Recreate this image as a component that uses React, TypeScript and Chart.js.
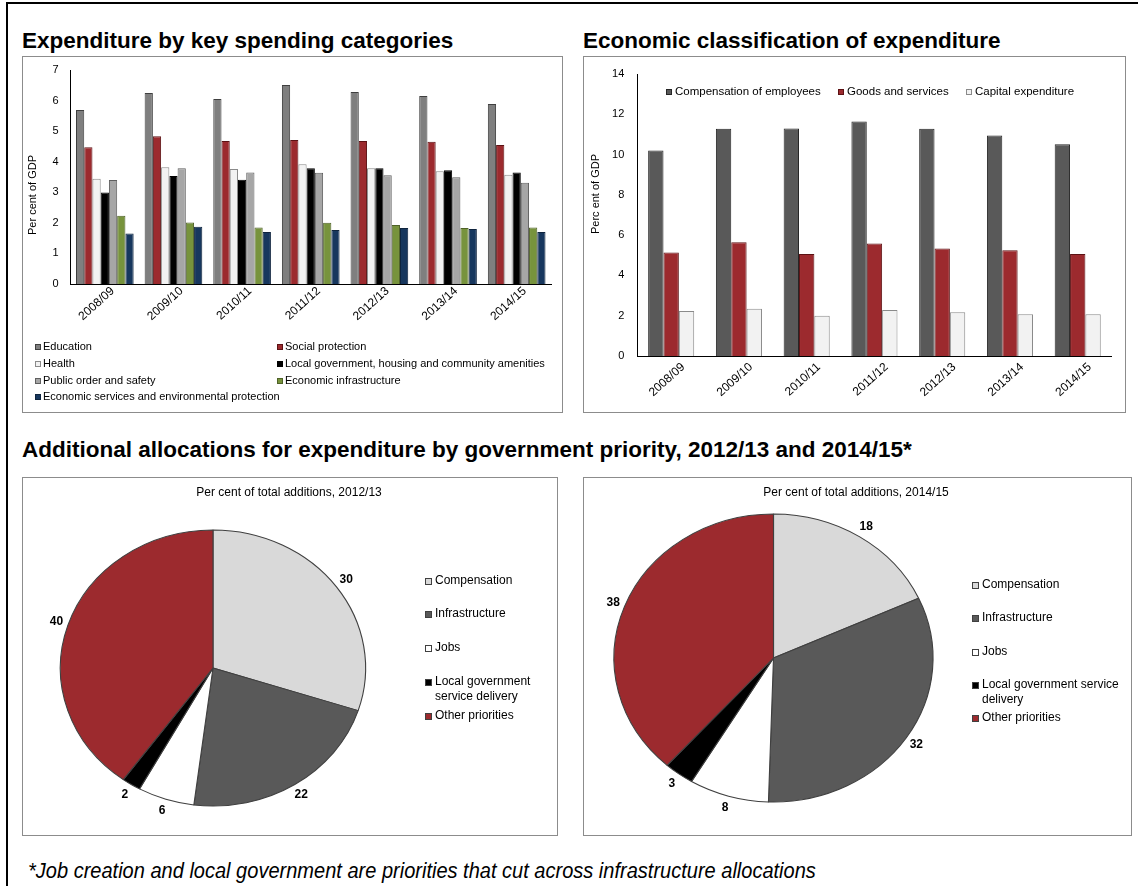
import React, { useEffect, useRef } from "react";
import { Chart, registerables } from "chart.js";

Chart.register(...registerables);

// ---------- data ----------
const years = ["2008/09", "2009/10", "2010/11", "2011/12", "2012/13", "2013/14", "2014/15"];

const education = [5.69, 6.25, 6.05, 6.51, 6.28, 6.15, 5.89];
const socialProtection = [4.47, 4.83, 4.68, 4.71, 4.68, 4.65, 4.55];
const health = [3.44, 3.82, 3.76, 3.92, 3.79, 3.69, 3.57];
const localGovernment = [2.99, 3.53, 3.41, 3.79, 3.79, 3.72, 3.65];
const publicOrder = [3.4, 3.79, 3.65, 3.64, 3.56, 3.49, 3.31];
const economicInfrastructure = [2.23, 2.01, 1.85, 2.0, 1.93, 1.83, 1.85];
const economicServices = [1.65, 1.87, 1.7, 1.77, 1.83, 1.8, 1.7];

const compensationOfEmployees = [10.2, 11.28, 11.29, 11.64, 11.28, 10.95, 10.51];
const goodsAndServices = [5.14, 5.65, 5.06, 5.58, 5.34, 5.25, 5.06];
const capitalExpenditure = [2.23, 2.35, 2.0, 2.28, 2.17, 2.07, 2.07];

const priorityLabels = [
  "Compensation",
  "Infrastructure",
  "Jobs",
  "Local government service delivery",
  "Other priorities",
];
const additions2012 = [30, 22, 6, 2, 40];
const additions2014 = [18, 32, 8, 3, 38];

// ---------- styling ----------
const FONT = "'Liberation Sans', Arial, sans-serif";
Chart.defaults.font.family = FONT;
Chart.defaults.color = "#000";

const pieColors = ["#d9d9d9", "#595959", "#ffffff", "#000000", "#9c2a2e"];

// ---------- plugins ----------
function wrapText(ctx: CanvasRenderingContext2D, text: string, maxWidth?: number): string[] {
  if (!maxWidth) return [text];
  const words = text.split(" ");
  const lines: string[] = [];
  let cur = "";
  for (const w of words) {
    const test = cur ? cur + " " + w : w;
    if (ctx.measureText(test).width > maxWidth && cur) {
      lines.push(cur);
      cur = w;
    } else cur = test;
  }
  if (cur) lines.push(cur);
  return lines;
}

function makeLegendPlugin(
  positions: { x: number; y: number }[],
  cfg: { box: number; gap: number; font: string; lineHeight: number; maxWidth?: number }
) {
  return {
    id: "customLegend",
    afterDraw(chart: any) {
      const ctx: CanvasRenderingContext2D = chart.ctx;
      const items = chart.options.plugins.legend.labels.generateLabels(chart);
      ctx.save();
      ctx.font = cfg.font;
      ctx.textBaseline = "middle";
      ctx.textAlign = "left";
      items.forEach((it: any, i: number) => {
        const p = positions[i];
        if (!p) return;
        const top = Math.round(p.y - cfg.box / 2);
        ctx.fillStyle = it.fillStyle;
        ctx.fillRect(p.x, top, cfg.box, cfg.box);
        ctx.strokeStyle = it.strokeStyle || "#000";
        ctx.lineWidth = 1;
        ctx.strokeRect(p.x + 0.5, top + 0.5, cfg.box - 1, cfg.box - 1);
        ctx.fillStyle = "#000";
        const lines = wrapText(ctx, String(it.text), cfg.maxWidth);
        lines.forEach((ln, j) => ctx.fillText(ln, p.x + cfg.box + cfg.gap, p.y + j * cfg.lineHeight));
      });
      ctx.restore();
    },
  };
}

function makeTextPlugin(
  texts: { text: string; x: number; y: number; font: string; rotate?: number; align?: CanvasTextAlign }[]
) {
  return {
    id: "customText",
    afterDraw(chart: any) {
      const ctx: CanvasRenderingContext2D = chart.ctx;
      texts.forEach((t) => {
        ctx.save();
        ctx.font = t.font;
        ctx.fillStyle = "#000";
        ctx.textAlign = t.align || "center";
        ctx.textBaseline = "middle";
        ctx.translate(t.x, t.y);
        if (t.rotate) ctx.rotate(t.rotate);
        ctx.fillText(t.text, 0, 0);
        ctx.restore();
      });
    },
  };
}

function makeStretchPlugin(sx: number) {
  return {
    id: "stretch",
    beforeDatasetsDraw(chart: any) {
      const arc = chart.getDatasetMeta(0).data[0];
      const ctx = chart.ctx;
      ctx.save();
      ctx.translate(arc.x, arc.y);
      ctx.scale(sx, 1);
      ctx.translate(-arc.x, -arc.y);
    },
    afterDatasetsDraw(chart: any) {
      chart.ctx.restore();
    },
  };
}

function makePieLabelPlugin(sx: number) {
  return {
    id: "pieLabels",
    afterDraw(chart: any) {
      const ctx: CanvasRenderingContext2D = chart.ctx;
      const meta = chart.getDatasetMeta(0);
      const data = chart.data.datasets[0].data;
      ctx.save();
      ctx.font = `bold 12px ${FONT}`;
      ctx.fillStyle = "#000";
      ctx.textAlign = "center";
      ctx.textBaseline = "middle";
      meta.data.forEach((arc: any, i: number) => {
        const mid = (arc.startAngle + arc.endAngle) / 2;
        const px = arc.x + (arc.outerRadius * sx + 12) * Math.cos(mid);
        const py = arc.y + (arc.outerRadius + 12) * Math.sin(mid);
        ctx.fillText(String(data[i]), px, py);
      });
      ctx.restore();
    },
  };
}

// ---------- chart configs ----------
const tickFont = { size: 11, family: FONT };
const xTickFont = { size: 12, family: FONT };
const axisBorder = { display: true, color: "#000", width: 1 };

function fixY(width: number) {
  return (s: any) => {
    s.width = width;
    s.paddingTop = 0;
    s.paddingBottom = 0;
  };
}
function fixX(height: number) {
  return (s: any) => {
    s.height = height;
    s.paddingLeft = 0;
    s.paddingRight = 0;
  };
}

function spendingConfig(): any {
  return {
    type: "bar",
    data: {
      labels: years,
      datasets: [
        { label: "Education", data: education, backgroundColor: "#7f7f7f", borderColor: "#3f3f3f" },
        { label: "Social protection", data: socialProtection, backgroundColor: "#9c2a2e", borderColor: "#5c1214" },
        { label: "Health", data: health, backgroundColor: "#f2f2f2", borderColor: "#8a8a8a" },
        {
          label: "Local government, housing and community amenities",
          data: localGovernment,
          backgroundColor: "#000000",
          borderColor: "#000000",
        },
        { label: "Public order and safety", data: publicOrder, backgroundColor: "#a6a6a6", borderColor: "#5f5f5f" },
        { label: "Economic infrastructure", data: economicInfrastructure, backgroundColor: "#77933c", borderColor: "#4f6228" },
        {
          label: "Economic services and environmental protection",
          data: economicServices,
          backgroundColor: "#17375e",
          borderColor: "#0f243e",
        },
      ],
    },
    options: {
      animation: false,
      responsive: false,
      layout: { padding: { left: 0, right: 11, top: 13, bottom: 0 }, autoPadding: false },
      datasets: { bar: { categoryPercentage: 0.84, barPercentage: 1, borderWidth: 1 } },
      plugins: { legend: { display: false }, tooltip: { enabled: false } },
      scales: {
        x: {
          grid: { display: false, drawTicks: false },
          border: axisBorder,
          ticks: { font: xTickFont, color: "#000", minRotation: 42, maxRotation: 42, labelOffset: 8, padding: 0, autoSkip: false },
          afterFit: fixX(128),
        },
        y: {
          min: 0,
          max: 7,
          grid: { display: false, drawTicks: false },
          border: axisBorder,
          ticks: { stepSize: 1, font: tickFont, color: "#000", padding: 12 },
          afterFit: fixY(47.5),
        },
      },
    },
    plugins: [
      makeLegendPlugin(
        [
          { x: 12, y: 290 },
          { x: 254, y: 290 },
          { x: 12, y: 307 },
          { x: 254, y: 307 },
          { x: 12, y: 324 },
          { x: 254, y: 324 },
          { x: 12, y: 340 },
        ],
        { box: 6, gap: 2, font: `11px ${FONT}`, lineHeight: 13 }
      ),
      makeTextPlugin([{ text: "Per cent of GDP", x: 10, y: 138, font: `11px ${FONT}`, rotate: -Math.PI / 2 }]),
    ],
  };
}

function economicConfig(): any {
  return {
    type: "bar",
    data: {
      labels: years,
      datasets: [
        { label: "Compensation of employees", data: compensationOfEmployees, backgroundColor: "#595959", borderColor: "#262626" },
        { label: "Goods and services", data: goodsAndServices, backgroundColor: "#9c2a2e", borderColor: "#5c1214" },
        { label: "Capital expenditure", data: capitalExpenditure, backgroundColor: "#f2f2f2", borderColor: "#8a8a8a" },
      ],
    },
    options: {
      animation: false,
      responsive: false,
      layout: { padding: { left: 0, right: 13.4, top: 17, bottom: 0 }, autoPadding: false },
      datasets: { bar: { categoryPercentage: 0.68, barPercentage: 1, borderWidth: 1 } },
      plugins: { legend: { display: false }, tooltip: { enabled: false } },
      scales: {
        x: {
          grid: { display: false, drawTicks: false },
          border: axisBorder,
          ticks: { font: xTickFont, color: "#000", minRotation: 42, maxRotation: 42, labelOffset: 12, padding: 4, autoSkip: false },
          afterFit: fixX(56),
        },
        y: {
          min: 0,
          max: 14,
          grid: { display: false, drawTicks: false },
          border: axisBorder,
          ticks: { stepSize: 2, font: tickFont, color: "#000", padding: 13 },
          afterFit: fixY(53.3),
        },
      },
    },
    plugins: [
      makeLegendPlugin(
        [
          { x: 82, y: 35 },
          { x: 254, y: 35 },
          { x: 382, y: 35 },
        ],
        { box: 6, gap: 3, font: `11.5px ${FONT}`, lineHeight: 13 }
      ),
      makeTextPlugin([{ text: "Perc ent of GDP", x: 12, y: 137, font: `11px ${FONT}`, rotate: -Math.PI / 2 }]),
    ],
  };
}

function pieConfig(
  values: number[],
  radius: number,
  sx: number,
  padding: { left: number; right: number; top: number; bottom: number },
  legendPos: { x: number; y: number }[],
  legendMaxWidth: number,
  title: string,
  titleX: number
): any {
  return {
    type: "pie",
    data: {
      labels: priorityLabels,
      datasets: [
        {
          data: values,
          backgroundColor: pieColors,
          borderColor: "#404040",
          borderWidth: 1,
          radius,
          hoverOffset: 0,
          offset: 0,
        },
      ],
    },
    options: {
      animation: false,
      responsive: false,
      layout: { padding },
      plugins: { legend: { display: false }, tooltip: { enabled: false }, title: { display: false } },
    },
    plugins: [
      makeStretchPlugin(sx),
      makePieLabelPlugin(sx),
      makeLegendPlugin(legendPos, { box: 7, gap: 3, font: `12px ${FONT}`, lineHeight: 15, maxWidth: legendMaxWidth }),
      makeTextPlugin([{ text: title, x: titleX, y: 15, font: `12px ${FONT}` }]),
    ],
  };
}

// ---------- components ----------
function ChartCanvas({ width, height, makeConfig }: { width: number; height: number; makeConfig: () => any }) {
  const ref = useRef<HTMLCanvasElement>(null);
  useEffect(() => {
    const chart = new Chart(ref.current as HTMLCanvasElement, makeConfig());
    return () => chart.destroy();
  }, []);
  return <canvas ref={ref} width={width} height={height} style={{ display: "block", width, height }} />;
}

function Panel({
  left,
  top,
  width,
  height,
  makeConfig,
}: {
  left: number;
  top: number;
  width: number;
  height: number;
  makeConfig: () => any;
}) {
  return (
    <div
      style={{
        position: "absolute",
        left,
        top,
        width,
        height,
        boxSizing: "border-box",
        border: "1px solid #8c8c8c",
        background: "#fff",
      }}
    >
      <ChartCanvas width={width - 2} height={height - 2} makeConfig={makeConfig} />
    </div>
  );
}

const titleStyle: React.CSSProperties = {
  position: "absolute",
  fontFamily: FONT,
  fontWeight: "bold",
  fontSize: 22.5,
  lineHeight: 1,
  whiteSpace: "nowrap",
  color: "#000",
};

export default function App() {
  return (
    <div style={{ position: "fixed", inset: 0, overflow: "hidden", background: "#fff" }}>
      <div
        style={{
          position: "absolute",
          left: 6,
          top: 2,
          width: 1200,
          height: 1000,
          border: "2px solid #000",
          boxSizing: "border-box",
        }}
      />
      <div style={{ ...titleStyle, left: 22, top: 30 }}>Expenditure by key spending categories</div>
      <div style={{ ...titleStyle, left: 583, top: 30 }}>Economic classification of expenditure</div>
      <div style={{ ...titleStyle, left: 22, top: 439 }}>
        Additional allocations for expenditure by government priority, 2012/13 and 2014/15*
      </div>

      <Panel left={22} top={56} width={541} height={357} makeConfig={spendingConfig} />
      <Panel left={583} top={56} width={543} height={357} makeConfig={economicConfig} />

      <Panel
        left={22}
        top={477}
        width={536}
        height={359}
        makeConfig={() =>
          pieConfig(
            additions2012,
            138,
            1.106,
            { left: 52, right: 206, top: 52, bottom: 29 },
            [
              { x: 402, y: 103 },
              { x: 402, y: 136 },
              { x: 402, y: 170 },
              { x: 402, y: 204 },
              { x: 402, y: 238 },
            ],
            117,
            "Per cent of total additions, 2012/13",
            266
          )
        }
      />
      <Panel
        left={583}
        top={477}
        width={549}
        height={359}
        makeConfig={() =>
          pieConfig(
            additions2014,
            144,
            1.108,
            { left: 45.5, right: 213.5, top: 36, bottom: 33 },
            [
              { x: 388, y: 107 },
              { x: 388, y: 140 },
              { x: 388, y: 174 },
              { x: 388, y: 207 },
              { x: 388, y: 240 },
            ],
            145,
            "Per cent of total additions, 2014/15",
            272
          )
        }
      />

      <div
        style={{
          position: "absolute",
          left: 28,
          top: 860,
          fontFamily: FONT,
          fontStyle: "italic",
          fontSize: 22,
          lineHeight: 1,
          whiteSpace: "nowrap",
          transform: "scaleX(0.91)",
          transformOrigin: "left top",
          color: "#000",
        }}
      >
        *Job creation and local government are priorities that cut across infrastructure allocations
      </div>
    </div>
  );
}
